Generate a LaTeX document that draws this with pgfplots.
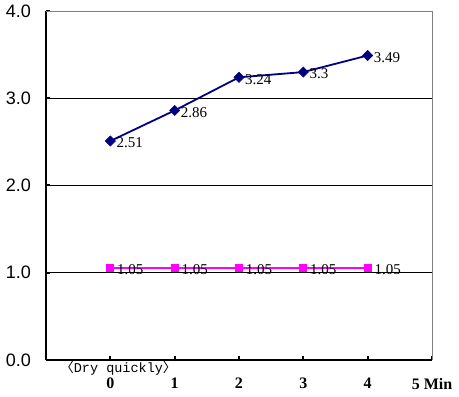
\documentclass[border=0pt]{standalone}
\usepackage{pgfplots}
\pgfplotsset{compat=1.18}
\usepackage{fontspec}
\setmainfont{Liberation Serif}
\newfontfamily\sansf{Liberation Sans}
\newfontfamily\monof{Liberation Mono}
\newfontfamily\cjk{Noto Sans CJK TC}
\definecolor{navyb}{RGB}{0,0,128}
\definecolor{mag}{RGB}{255,0,255}
\begin{document}
\begin{tikzpicture}
\path[use as bounding box] (-46pt,-37pt) rectangle (413pt,360pt);
\begin{axis}[
  at={(0,0)}, anchor=south west,
  scale only axis, width=386pt, height=349pt,
  xmin=-1, xmax=5, ymin=0, ymax=4,
  xtick={0,1,2,3,4,5}, xticklabels={0,1,2,3,4,5 Min},
  ytick={0,1,2,3,4}, yticklabels={0.0,1.0,2.0,3.0,4.0},
  axis x line*=bottom, axis y line*=left,
  axis line style={line width=2.5pt, -},
  tick align=inside, major tick length=4pt,
  tick style={black, line width=2pt},
  ymajorgrids, major grid style={black, line width=0.8pt},
  x tick label style={font=\fontsize{16}{16}\selectfont\bfseries, inner sep=0pt, yshift=-18pt},
  y tick label style={font=\fontsize{18}{18}\selectfont\sansf, inner sep=0pt, xshift=-15pt},
  clip=false,
  nodes near coords,
  every node near coord/.append style={font=\fontsize{15}{15}\selectfont, anchor=west, inner sep=0pt, xshift=6pt, yshift=-2pt, text=black},
]
\draw[gray, line width=0.8pt] (rel axis cs:0,1) -- (rel axis cs:1,1) -- (rel axis cs:1,0);
\addplot[navyb, line width=1.8pt, mark=square*, mark size=3.6pt, mark options={fill=navyb, rotate=45, line width=0.5pt}, point meta=explicit symbolic]
  coordinates {(0,2.51)[2.51] (1,2.86)[2.86] (2,3.24)[3.24] (3,3.3)[3.3] (4,3.49)[3.49]};
\addplot[mag, line width=1.8pt, mark=square*, mark size=3pt, mark options={fill=mag}, point meta=explicit symbolic,
  every node near coord/.append style={yshift=1pt}]
  coordinates {(0,1.05)[1.05] (1,1.05)[1.05] (2,1.05)[1.05] (3,1.05)[1.05] (4,1.05)[1.05]};
\node[anchor=west, inner sep=0pt, font=\fontsize{13.5}{13.5}\selectfont] at (axis cs:-0.78,0) [yshift=-8pt] {{\cjk 〈}{\monof Dry quickly}{\cjk 〉}};
\end{axis}
\end{tikzpicture}
\end{document}
